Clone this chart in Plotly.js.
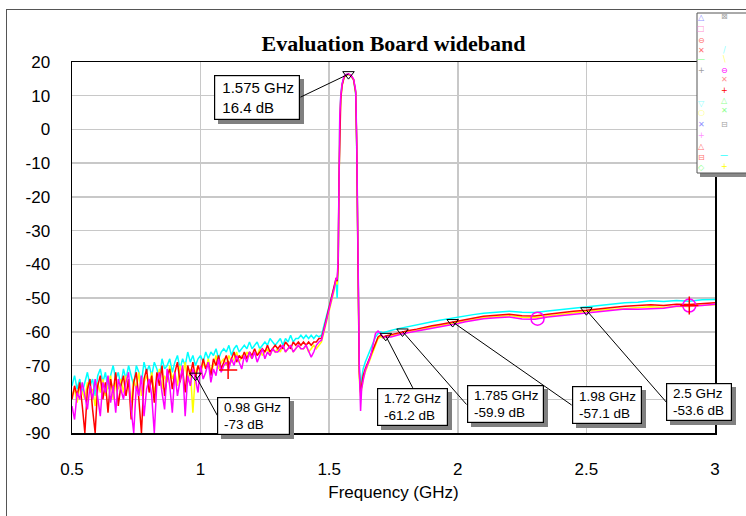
<!DOCTYPE html>
<html><head><meta charset="utf-8">
<script src="https://cdn.plot.ly/plotly-3.0.1.min.js"></script>
<style>
html,body{margin:0;padding:0;background:#fff;overflow:hidden;width:746px;height:516px;}
#frame{position:absolute;left:6px;top:9px;width:760px;height:530px;border-left:1px solid #555;border-top:1px solid #555;}
#chart{position:absolute;left:0;top:0;width:746px;height:516px;}
</style></head><body>
<div id="frame"></div>
<div id="chart"></div>
<script>
// ---------------- DATA ----------------
const freq = [
 0.50,0.51,0.52,0.53,0.54,0.55,0.56,0.57,0.58,0.59,
 0.60,0.61,0.62,0.63,0.64,0.65,0.66,0.67,0.68,0.69,
 0.70,0.71,0.72,0.73,0.74,0.75,0.76,0.77,0.78,0.79,
 0.80,0.81,0.82,0.83,0.84,0.85,0.86,0.87,0.88,0.89,
 0.90,0.91,0.92,0.93,0.94,0.95,0.96,0.97,0.98,0.99,
 1.00,1.01,1.02,1.03,1.04,1.05,1.06,1.07,1.08,1.09,
 1.10,1.11,1.12,1.13,1.14,1.15,1.16,1.17,1.18,1.19,
 1.20,1.21,1.22,1.23,1.24,1.25,1.26,1.27,1.28,1.29,
 1.30,1.31,1.32,1.33,1.34,1.35,1.36,1.37,1.38,1.39,
 1.40,1.41,1.42,1.43,1.44,1.45,1.46,
 1.47,1.48,1.49,1.50,1.51,1.52,
 1.527,1.531,1.535,1.538,1.541,1.545,1.55,1.558,1.565,1.575,
 1.585,1.595,1.603,1.607,1.612,1.617,1.622,1.626,1.632,1.64,
 1.65,1.66,1.67,1.68,1.69,1.70,1.71,1.72,1.74,1.76,
 1.785,1.81,1.84,1.87,1.90,1.93,1.96,1.98,2.00,2.03,
 2.06,2.10,2.15,2.20,2.25,2.30,2.35,2.40,2.45,2.50,
 2.55,2.60,2.65,2.70,2.75,2.80,2.85,2.90,2.95,3.00
];
const cyanDb = [
 -76,-73,-77,-74,-78,-75,-72,-76,-74,-79,
 -73,-71,-75,-72,-77,-73,-70,-74,-72,-76,
 -71,-74,-70,-73,-76,-70,-72,-75,-69,-72,
 -70,-73,-69,-71,-74,-68,-71,-70,-68,-72,
 -69,-67,-71,-68,-70,-66,-69,-67,-70,-68,
 -67,-69,-66,-68,-66,-67,-65,-68,-66,-65,
 -66,-64,-67,-65,-64,-66,-65,-64,-65,-63,
 -65,-64,-63,-65,-64,-63,-64,-62,-63,-64,
 -63,-62,-64,-62,-63,-61,-63,-62,-62,-61,
 -62,-61,-62,-61,-62,-61,-61.5,
 -61,-58,-55,-52.5,-49.5,-46.5,
 -45,-50,-40,-14,3,10,13.5,15.5,16.2,16.3,
 15.8,14.6,10.5,-6,-42,-70,-76,-74,-71,-69,
 -67,-65,-63,-61.5,-60.5,-60,-60.3,-60,-59.6,-59.2,
 -58.8,-58.4,-57.8,-57.5,-57,-56.6,-56.2,-55.9,-55.6,-55.2,
 -54.9,-54.5,-54.1,-53.9,-54.2,-54.3,-53.8,-53.4,-52.9,-52.6,
 -52.2,-51.7,-51.4,-51.2,-50.8,-51.0,-50.7,-50.9,-50.5,-50.4
];
const yellowDb = [
 -79,-77,-81,-76,-78,-80,-75,-78,-77,-82,
 -75,-78,-74,-79,-76,-73,-80,-75,-77,-74,
 -78,-73,-76,-81,-74,-77,-72,-79,-75,-73,
 -76,-72,-78,-74,-71,-77,-73,-75,-70,-74,
 -72,-76,-70,-73,-69,-75,-71,-84,-72,-70,
 -73,-69,-71,-68,-72,-70,-67,-71,-69,-68,
 -70,-67,-69,-68,-66,-69,-67,-68,-66,-67,
 -68,-66,-67,-65,-67,-66,-65,-67,-65,-66,
 -65,-66,-64,-66,-65,-64,-66,-65,-64,-65,
 -65,-64,-66,-65,-64,-65,-64,
 -63,-60,-57,-53.5,-50.5,-47.5,
 -44.5,-46,-41,-16,1.5,9,13,15.4,16.1,16.3,
 15.9,14.6,10.8,-5,-41,-74,-79,-77,-74,-72,
 -70,-68,-65.5,-63.5,-62,-61.5,-61.8,-61.6,-61.2,-60.8,
 -60.3,-60,-59.6,-59,-58.6,-58.2,-57.8,-57.5,-57.2,-56.7,
 -56.3,-55.8,-55.5,-55.2,-55.7,-55.8,-55.3,-54.8,-54.4,-54,
 -53.6,-53.3,-53,-52.9,-52.6,-52.8,-52.4,-52.5,-52.1,-52
];
const redDb = [
 -80,-76,-79,-75,-82,-90,-77,-74,-83,-90,
 -76,-73,-80,-75,-84,-74,-78,-72,-82,-76,
 -73,-79,-74,-86,-75,-72,-80,-90,-74,-71,
 -78,-73,-81,-72,-76,-70,-79,-73,-71,-77,
 -72,-69,-75,-71,-78,-70,-73,-69,-74,-70,
 -72,-68,-71,-69,-73,-68,-70,-67,-71,-69,
 -67,-70,-68,-66,-69,-67,-68,-66,-68,-66,
 -67,-65,-67,-66,-65,-66,-64,-66,-65,-64,
 -65,-64,-65,-63,-64,-65,-63,-64,-63,-64,
 -63,-64,-63,-64,-63,-63,-62,
 -62,-59,-56,-53,-50,-47,
 -44,-45,-40,-15,2,9,13,15.5,16.2,16.4,
 16,14.8,11,-5,-40,-72,-78,-76,-73,-71,
 -69,-67,-65,-63,-61.5,-61,-61.5,-61.2,-60.8,-60.4,
 -59.9,-59.6,-59.2,-58.6,-58.2,-57.8,-57.4,-57.1,-56.8,-56.3,
 -55.9,-55.4,-55.1,-54.8,-55.2,-55.3,-54.8,-54.3,-53.9,-53.6,
 -53.1,-52.8,-52.4,-52.3,-52.0,-52.2,-51.8,-51.9,-51.6,-51.4
];
const magentaDb = [
 -82,-86,-78,-80,-75,-79,-83,-76,-80,-74,
 -79,-85,-75,-78,-73,-81,-76,-84,-74,-77,
 -80,-75,-72,-83,-90,-76,-79,-73,-85,-77,
 -74,-79,-90,-75,-72,-78,-83,-71,-76,-84,
 -72,-79,-74,-70,-85,-73,-76,-71,-74,-78,
 -70,-74,-72,-69,-75,-71,-73,-68,-72,-70,
 -69,-71,-68,-70,-67,-69,-71,-67,-69,-66,
 -68,-66,-69,-67,-65,-68,-66,-67,-65,-66,
 -66,-65,-64,-66,-65,-64,-66,-65,-64,-65,
 -65,-64,-66,-67.5,-66,-64,-63,
 -62.5,-59.5,-56.5,-53,-50,-47,
 -44,-44.5,-38,-12,4,10,13.5,15.8,16.3,16.4,
 16.1,14.9,11.5,-3,-38,-70,-83.5,-77,-74.5,-71.5,
 -69.5,-67.5,-64,-60.5,-59.8,-60.5,-61.8,-61.5,-61.5,-61,
 -60.6,-60.2,-59.8,-59.3,-58.9,-58.5,-58.1,-57.8,-57.5,-57,
 -56.6,-56.1,-55.8,-55.6,-56.2,-56.3,-55.6,-55.2,-54.8,-54.3,
 -53.9,-53.4,-53.2,-53.3,-53.1,-53,-52.4,-52.3,-52.2,-51.8
];
// marker readouts
const markFreq = [1.575, 0.98, 1.72, 1.785, 1.98, 2.5];
const markDb   = [16.4, -73, -61.2, -59.9, -57.1, -53.6];
// extra trace markers
const magMarkFreq = [2.31, 2.9];
const magMarkDb   = [-56.1, -52.2];
const redMarkFreq = [1.107, 2.9];
const redMarkDb   = [-71.3, -52.2];
// ticks
const xTickVals = [0.5, 1, 1.5, 2, 2.5, 3];
const xTickText = ['0.5', '1', '1.5', '2', '2.5', '3'];
const yTickVals = [20, 10, 0, -10, -20, -30, -40, -50, -60, -70, -80, -90];
const yTickText = ['20', '10', '0', '-10', '-20', '-30', '-40', '-50', '-60', '-70', '-80', '-90'];

// ---------------- LAYOUT HELPERS ----------------
const L = 72, R = 31, T = 62, B = 83, W = 746, H = 516;
const PW = W - L - R, PH = H - T - B;
const px2x = p => (p - L) / PW;
const py2y = p => (H - B - p) / PH;

const lineW = 1.5;
const traces = [
  {x: freq, y: cyanDb, color: '#00ffff'},
  {x: freq, y: yellowDb, color: '#ffff00'},
  {x: freq, y: redDb, color: '#ff0000'},
  {x: freq, y: magentaDb, color: '#ff00ff'}
].map(t => ({type: 'scatter', mode: 'lines', x: t.x, y: t.y,
  line: {color: t.color, width: lineW}, hoverinfo: 'skip', showlegend: false}));

traces.push({type: 'scatter', mode: 'markers', x: magMarkFreq, y: magMarkDb, showlegend: false,
  marker: {symbol: 'circle-open', size: 13, color: '#ff00ff', line: {width: 1.5, color: '#ff00ff'}}});
traces.push({type: 'scatter', mode: 'markers', x: redMarkFreq, y: redMarkDb, showlegend: false,
  marker: {symbol: 'cross-thin-open', size: 13, color: '#ff0000', line: {width: 1.5, color: '#ff0000'}}});
traces.push({type: 'scatter', mode: 'markers', x: markFreq, y: markDb, showlegend: false,
  marker: {symbol: 'triangle-down-open', size: 10, color: '#000', line: {width: 1, color: '#000'}}});

// readout boxes placement (box inner width/height in px)
const boxCfg = [
  {ax: -48, ay: 23, xa: 'right', ya: 'middle', fs: 15, pad: 3, w: 78, h: 37},
  {ax: 22, ay: 40, xa: 'left', ya: 'middle', fs: 13.5, pad: 2, w: 67, h: 32},
  {ax: 27, ay: 52, xa: 'center', ya: 'top', fs: 13.5, pad: 2, w: 65, h: 32},
  {ax: 64, ay: 73, xa: 'left', ya: 'middle', fs: 13.5, pad: 2, w: 71, h: 32},
  {ax: 119, ay: 83, xa: 'left', ya: 'middle', fs: 13.5, pad: 2, w: 64, h: 32},
  {ax: 80, ay: 92, xa: 'left', ya: 'middle', fs: 13.5, pad: 2, w: 60, h: 32}
];
const sp = '\u00a0';
const shadows = [], boxes = [];
markFreq.forEach((f, i) => {
  const c = boxCfg[i];
  const txt = sp + f + ' GHz<br>' + sp + markDb[i] + ' dB';
  const base = {x: f, y: markDb[i], xref: 'x', yref: 'y', showarrow: true,
    ax: c.ax, ay: c.ay, xanchor: c.xa, yanchor: c.ya, align: 'left', valign: 'middle',
    borderpad: c.pad, width: c.w, height: c.h,
    borderwidth: 1.2, arrowhead: 0, standoff: 0};
  shadows.push(Object.assign({}, base, {text: sp,
    font: {family: 'Liberation Sans, Arial', size: c.fs, color: 'rgba(0,0,0,0)'},
    bgcolor: '#808080', bordercolor: '#808080', arrowcolor: 'rgba(0,0,0,0)', xshift: 4, yshift: -4}));
  boxes.push(Object.assign({}, base, {text: txt,
    font: {family: 'Liberation Sans, Arial', size: c.fs, color: '#000'},
    bgcolor: '#fff', bordercolor: '#000', arrowcolor: '#000', arrowwidth: 1}));
});

// decorative legend glyphs (pixel positions)
const legendItems = [
  [701,17,'△','#9090ff'],[701,29,'□','#ff90d0'],[701,40,'⊖','#ff7070'],[701,50,'✕','#ff7070'],
  [701,60,'—','#90ff90'],[701,70,'+','#a0a0a0'],[701,103,'▽','#90ffff'],[701,113,'○','#ffff70'],
  [701,125,'✕','#9090ff'],[701,135,'+','#ff90ff'],[701,146,'△','#ff7070'],[701,157,'⊟','#ff7070'],
  [701,167,'◇','#90ff90'],
  [724,16,'⊠','#a0a0a0'],[724,50,'/','#90ffff'],[724,60,'\\','#ffff70'],[724,70,'⊖','#ff00ff'],
  [724,80,'✕','#ff9090'],[724,90,'+','#ff0000'],[724,100,'△','#90ff90'],[724,110,'✕','#90ff90'],
  [724,125,'⊟','#a0a0a0'],[724,155,'—','#00ffff'],[724,166,'+','#ffff00']
];
const legendAnn = legendItems.map(([px, py, g, col]) => ({
  xref: 'paper', yref: 'paper', x: px2x(px), y: py2y(py), text: g, showarrow: false,
  xanchor: 'center', yanchor: 'middle', font: {family: 'DejaVu Sans', size: 8, color: col}
}));

const shapes = [
  {type: 'rect', xref: 'paper', yref: 'paper', x0: px2x(700), x1: px2x(750), y0: py2y(177), y1: py2y(172),
   fillcolor: '#888', line: {width: 0}, layer: 'above'},
  {type: 'rect', xref: 'paper', yref: 'paper', x0: px2x(697), x1: px2x(748), y0: py2y(173), y1: py2y(13),
   fillcolor: '#fff', line: {color: '#555', width: 1}, layer: 'above'}
];

const axisFont = {family: 'Liberation Sans, Arial', size: 17, color: '#000'};
const layout = {
  width: W, height: H,
  margin: {l: L, r: R, t: T, b: B},
  paper_bgcolor: 'rgba(0,0,0,0)', plot_bgcolor: '#fff',
  showlegend: false,
  title: {text: '<b>Evaluation Board wideband</b>', x: 0.5, xref: 'paper', xanchor: 'center',
    y: 1 - 43 / H, yref: 'container', yanchor: 'middle',
    font: {family: 'Liberation Serif, Times New Roman', size: 22, color: '#000'}},
  xaxis: {range: [0.5, 3], tickvals: xTickVals, ticktext: xTickText, showgrid: true,
    gridcolor: '#c8c8c8', gridwidth: 1.5, zeroline: false, showline: true, mirror: true,
    linecolor: '#000', linewidth: 1.5, ticks: '', tickfont: axisFont, ticklabelstandoff: 20,
    title: {text: 'Frequency (GHz)', font: axisFont, standoff: 8}},
  yaxis: {range: [-90, 20], tickvals: yTickVals, ticktext: yTickText, showgrid: true,
    gridcolor: '#c8c8c8', gridwidth: 1.5, zeroline: false, showline: true, mirror: true,
    linecolor: '#000', linewidth: 1.5, ticks: '', tickfont: axisFont, ticklabelstandoff: 17},
  shapes: shapes,
  annotations: shadows.concat(boxes).concat(legendAnn)
};
Plotly.newPlot('chart', traces, layout, {staticPlot: true, displayModeBar: false});
</script>
</body></html>
